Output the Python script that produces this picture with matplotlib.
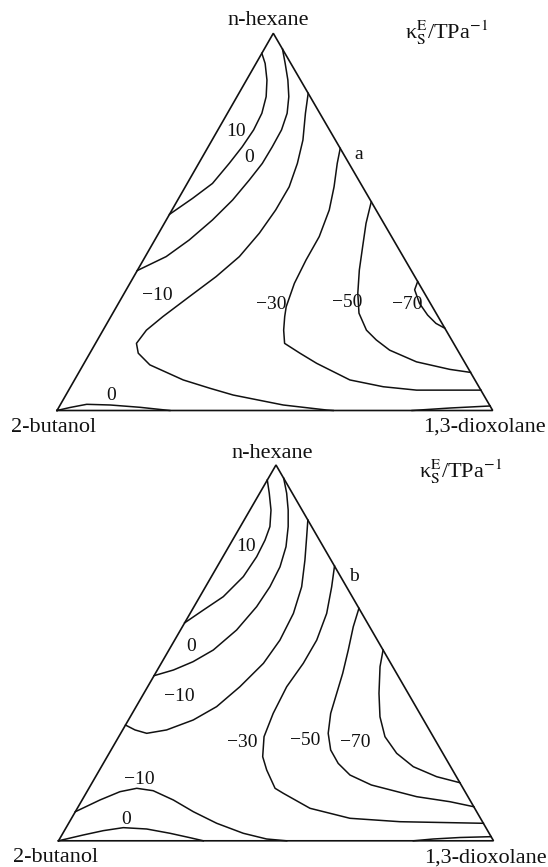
import numpy as np
import matplotlib
matplotlib.use("Agg")
import matplotlib.pyplot as plt

plt.rcParams['font.family'] = ['Liberation Serif', 'DejaVu Serif']
plt.rcParams['mathtext.fontset'] = 'stix'

# Components at the corners of each triangle
components = ["n-hexane", "2-butanol", "1,3-dioxolane"]
prop_label = "\u03ba$_{\\mathrm{S}}^{\\mathrm{E}}$/TPa$^{-1}$"

# Contour lines, points given as (x n-hexane, x 1,3-dioxolane)
# ---- panel a ----
a_p10 = [(0.947, 0.0), (0.920, 0.021), (0.876, 0.047), (0.832, 0.067), (0.788, 0.079),
         (0.744, 0.082), (0.699, 0.078), (0.655, 0.070), (0.602, 0.058), (0.5625, 0.032),
         (0.520, 0.0)]
a_0 = [(0.958, 0.042), (0.920, 0.067), (0.876, 0.095), (0.832, 0.119), (0.788, 0.137),
       (0.744, 0.146), (0.699, 0.147), (0.655, 0.146), (0.611, 0.138), (0.558, 0.126),
       (0.505, 0.106), (0.452, 0.079), (0.408, 0.048), (0.371, 0.0)]
a_m10 = [(0.841, 0.159), (0.788, 0.179), (0.717, 0.2085), (0.655, 0.2265), (0.593, 0.2385),
         (0.5315, 0.238), (0.470, 0.231), (0.408, 0.216), (0.355, 0.189), (0.302, 0.154),
         (0.249, 0.1195), (0.213, 0.0995), (0.178, 0.094), (0.152, 0.111), (0.121, 0.153),
         (0.081, 0.2495), (0.059, 0.3215), (0.041, 0.384), (0.0146, 0.512), (0.0013, 0.618),
         (0.0, 0.634)]
a_m30 = [(0.695, 0.305), (0.655, 0.318), (0.593, 0.3415), (0.5315, 0.361), (0.461, 0.373),
         (0.399, 0.3735), (0.337, 0.3775), (0.275, 0.3895), (0.249, 0.399), (0.213, 0.4145),
         (0.178, 0.434), (0.152, 0.482), (0.125, 0.534), (0.081, 0.632), (0.063, 0.7175),
         (0.054, 0.7985), (0.054, 0.946)]
a_m50 = [(0.5535, 0.4465), (0.496, 0.463), (0.434, 0.486), (0.3725, 0.509), (0.311, 0.536),
         (0.258, 0.565), (0.213, 0.6045), (0.187, 0.640), (0.160, 0.684), (0.129, 0.761),
         (0.109, 0.8475), (0.101, 0.899)]
a_m70 = [(0.342, 0.658), (0.320, 0.662), (0.284, 0.691), (0.253, 0.725), (0.231, 0.755),
         (0.218, 0.782)]
a_0_low = [(0.0, 0.0), (0.008, 0.026), (0.0164, 0.060), (0.0146, 0.115), (0.0085, 0.186),
           (0.0, 0.259)]
a_0_right = [(0.0, 0.815), (0.0066, 0.899), (0.012, 0.988)]

# ---- panel b ----
b_p10 = [(0.960, 0.0), (0.925, 0.022), (0.880, 0.0485), (0.836, 0.068), (0.800, 0.0747),
         (0.756, 0.0776), (0.703, 0.0734), (0.6496, 0.054), (0.614, 0.026), (0.580, 0.0)]
b_0 = [(0.9646, 0.0354), (0.925, 0.062), (0.880, 0.088), (0.836, 0.110), (0.7826, 0.1317),
       (0.729, 0.1447), (0.676, 0.148), (0.623, 0.144), (0.561, 0.129), (0.5077, 0.102),
       (0.4766, 0.071), (0.4545, 0.037), (0.4394, 0.0)]
b_m10 = [(0.8536, 0.1464), (0.809, 0.166), (0.747, 0.193), (0.676, 0.221), (0.605, 0.2375),
         (0.534, 0.242), (0.4723, 0.235), (0.410, 0.212), (0.357, 0.185), (0.3215, 0.149),
         (0.295, 0.101), (0.286, 0.0598), (0.295, 0.0284), (0.308, 0.0)]
b_m30 = [(0.731, 0.269), (0.676, 0.290), (0.605, 0.314), (0.534, 0.3266), (0.4723, 0.3266),
         (0.410, 0.3196), (0.339, 0.324), (0.277, 0.334), (0.2238, 0.3575), (0.1884, 0.3844),
         (0.1397, 0.428), (0.1264, 0.4536), (0.0865, 0.5349), (0.0599, 0.640), (0.0508, 0.7596),
         (0.0466, 0.9534)]
b_m50 = [(0.6187, 0.3813), (0.5697, 0.3928), (0.5077, 0.4123), (0.4457, 0.4305), (0.3925, 0.4433),
         (0.339, 0.4562), (0.286, 0.477), (0.2416, 0.5049), (0.206, 0.540), (0.175, 0.5826),
         (0.1485, 0.645), (0.1174, 0.7647), (0.104, 0.848), (0.0907, 0.9093)]
b_m70 = [(0.5077, 0.4923), (0.4633, 0.5075), (0.3925, 0.5405), (0.330, 0.574), (0.277, 0.612),
         (0.2328, 0.661), (0.1972, 0.717), (0.1706, 0.784), (0.1546, 0.8454)]
b_m10_low = [(0.0774, 0.0), (0.1086, 0.041), (0.1307, 0.076), (0.1397, 0.110), (0.1333, 0.151),
             (0.1086, 0.2097), (0.0774, 0.2713), (0.0466, 0.3404), (0.020, 0.4148),
             (0.0048, 0.476), (0.0, 0.5246)]
b_0_low = [(0.0, 0.0), (0.0154, 0.049), (0.027, 0.0895), (0.035, 0.1315), (0.0314, 0.187),
           (0.020, 0.2463), (0.0083, 0.298), (0.0, 0.333)]
b_0_right = [(0.0, 0.8157), (0.0048, 0.8592), (0.0088, 0.9186), (0.011, 0.989)]

# contour labels: (text, x n-hexane, x dioxolane)
a_labels = [("10", 0.740, 0.043), ("0", 0.670, 0.109), ("\u221210", 0.304, 0.079),
            ("\u221230", 0.280, 0.353), ("\u221250", 0.287, 0.524), ("\u221270", 0.282, 0.663),
            ("0", 0.041, 0.103), ("a", 0.680, 0.355)]
b_labels = [("10", 0.783, 0.040), ("0", 0.516, 0.047), ("\u221210", 0.383, 0.087),
            ("\u221230", 0.262, 0.292), ("\u221250", 0.266, 0.435), ("\u221270", 0.261, 0.551),
            ("\u221210", 0.162, 0.105), ("0", 0.057, 0.126), ("b", 0.703, 0.328)]

panels = [
    dict(lines=[a_p10, a_0, a_m10, a_m30, a_m50, a_m70, a_0_low, a_0_right],
         labels=a_labels,
         corners=dict(H=(273.3, 33.3), B=(57.0, 410.5), D=(492.7, 410.5)),
         top_text=(268.5, 20.5), prop_pos=(447.0, 33.0)),
    dict(lines=[b_p10, b_0, b_m10, b_m30, b_m50, b_m70, b_m10_low, b_0_low, b_0_right],
         labels=b_labels,
         corners=dict(H=(276.0, 465.0), B=(58.5, 840.8), D=(493.5, 840.8)),
         top_text=(272.0, 453.0), prop_pos=(461.0, 472.0)),
]


def to_xy(pts, c):
    pts = np.asarray(pts, dtype=float)
    h, d = pts[:, 0], pts[:, 1]
    b = 1.0 - h - d
    H, B, D = np.array(c["H"]), np.array(c["B"]), np.array(c["D"])
    x = b * B[0] + d * D[0] + h * H[0]
    y = b * B[1] + d * D[1] + h * H[1]
    return x, y


fig = plt.figure(figsize=(5.48, 8.67), dpi=100)
ax = fig.add_axes([0, 0, 1, 1])
ax.set_xlim(0, 548)
ax.set_ylim(867, 0)
ax.axis('off')

ink = '#111111'
for p in panels:
    c = p["corners"]
    tri = np.array([c["B"], c["D"], c["H"], c["B"]])
    ax.plot(tri[:, 0], tri[:, 1], color=ink, lw=1.2, solid_joinstyle='miter')
    for ln in p["lines"]:
        x, y = to_xy(ln, c)
        ax.plot(x, y, color=ink, lw=1.1, solid_joinstyle='round')
    for txt, h, d in p["labels"]:
        x, y = to_xy([(h, d)], c)
        ax.text(x[0], y[0], txt, fontsize=14, ha='center', va='center', color=ink)

    ax.text(p["top_text"][0], p["top_text"][1], components[0], fontsize=16,
            ha='center', va='center', color=ink)
    ax.text(c["B"][0] - 3, c["B"][1] + 17, components[1], fontsize=16,
            ha='center', va='center', color=ink)
    ax.text(c["D"][0] - 8, c["D"][1] + 17, components[2], fontsize=16,
            ha='center', va='center', color=ink)
    ax.text(p["prop_pos"][0], p["prop_pos"][1], prop_label, fontsize=16,
            ha='center', va='center', color=ink)

fig.savefig("out.png", dpi=100, facecolor='white')
